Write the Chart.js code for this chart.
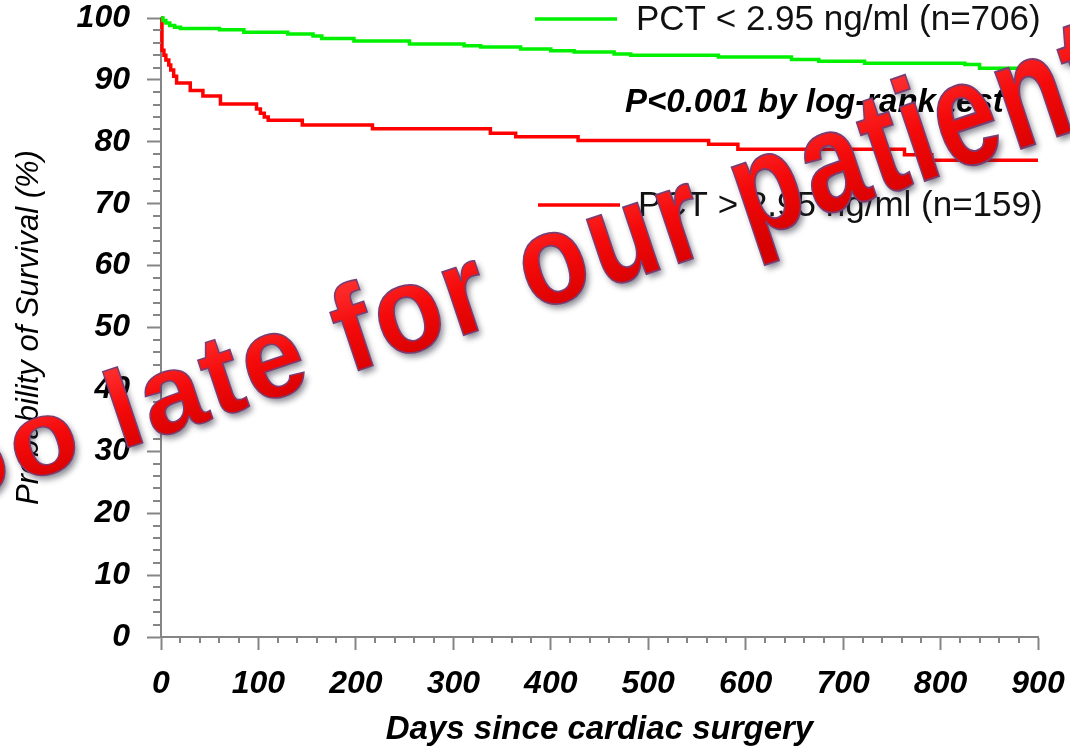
<!DOCTYPE html>
<html>
<head>
<meta charset="utf-8">
<script src="https://cdn.jsdelivr.net/npm/chart.js@4/dist/chart.umd.min.js"></script>
<style>
  html, body { margin: 0; padding: 0; background: #ffffff; }
  #c { display: block; }
</style>
</head>
<body>
<canvas id="c" width="1070" height="750"></canvas>
<script>
// ---- Data ----
const lowDays  = [0, 2, 5, 9, 14, 20, 60, 85, 130, 156, 165, 198, 255, 311, 328, 369, 400, 424, 465, 482, 572, 647, 675, 722, 825, 840, 900];
const lowSurv  = [100, 99.6, 99.2, 98.8, 98.5, 98.3, 98.1, 97.7, 97.4, 97.1, 96.7, 96.3, 95.8, 95.5, 95.3, 95.0, 94.7, 94.5, 94.2, 94.0, 93.7, 93.3, 93.0, 92.7, 92.5, 91.9, 91.9];

const highDays = [0, 1, 3, 5, 8, 10, 13, 16, 30, 43, 61, 98, 102, 106, 110, 145, 217, 338, 364, 428, 562, 592, 763, 791, 900];
const highSurv = [100, 94.8, 94.0, 93.2, 92.4, 91.6, 90.6, 89.5, 88.3, 87.4, 86.1, 85.3, 84.6, 84.0, 83.5, 82.7, 82.1, 81.4, 80.8, 80.2, 79.6, 78.8, 77.9, 77.0, 77.0];

const seriesLabels = ['PCT < 2.95 ng/ml (n=706)', 'PCT > 2.95 ng/ml (n=159)'];
const seriesColors = ['#00f000', '#ff0000'];
const xTicks = [0, 100, 200, 300, 400, 500, 600, 700, 800, 900];
const yTicks = [0, 10, 20, 30, 40, 50, 60, 70, 80, 90, 100];
const xTitle = 'Days since cardiac surgery';
const yTitle = 'Probability of Survival (%)';
const pValueText = 'P<0.001 by log-rank test';
const watermarkText = 'Too late for our patients';

const toPts = (xs, ys) => xs.map((x, i) => ({ x: x, y: ys[i] }));

const FONT = '"Liberation Sans", Arial, Helvetica, sans-serif';
const AXIS_GRAY = '#858585';

const background = {
  id: 'background',
  beforeDraw(chart) {
    const ctx = chart.ctx;
    ctx.save();
    ctx.fillStyle = '#ffffff';
    ctx.fillRect(0, 0, chart.width, chart.height);
    ctx.restore();
  }
};

const minorTicks = {
  id: 'minorTicks',
  afterDraw(chart) {
    const ctx = chart.ctx;
    const xs = chart.scales.x, ys = chart.scales.y;
    const area = chart.chartArea;
    ctx.save();
    ctx.strokeStyle = AXIS_GRAY;
    ctx.lineWidth = 2;
    ctx.beginPath();
    for (let v = 0; v <= 900; v += 20) {
      if (v % 100 === 0) continue;
      const px = Math.round(xs.getPixelForValue(v));
      ctx.moveTo(px, area.bottom);
      ctx.lineTo(px, area.bottom + 6);
    }
    for (let v = 0; v <= 100; v += 2) {
      if (v % 10 === 0) continue;
      const py = Math.round(ys.getPixelForValue(v));
      ctx.moveTo(area.left - 8, py);
      ctx.lineTo(area.left, py);
    }
    ctx.stroke();
    ctx.restore();
  }
};

const annotations = {
  id: 'annotations',
  afterDraw(chart) {
    const ctx = chart.ctx;
    ctx.save();
    // legend entries
    const legendPos = [{ x1: 535, x2: 617, y: 19, tx: 636 }, { x1: 538, x2: 620, y: 205, tx: 638 }];
    ctx.lineWidth = 3.5;
    ctx.textBaseline = 'middle';
    ctx.textAlign = 'left';
    ctx.font = '35px ' + FONT;
    ctx.fillStyle = '#111111';
    legendPos.forEach((p, i) => {
      ctx.strokeStyle = seriesColors[i];
      ctx.beginPath();
      ctx.moveTo(p.x1, p.y);
      ctx.lineTo(p.x2, p.y);
      ctx.stroke();
      ctx.fillText(seriesLabels[i], p.tx, p.y + 1);
    });
    // p-value text
    ctx.font = 'italic bold 33px ' + FONT;
    ctx.fillStyle = '#000000';
    ctx.fillText(pValueText, 625, 103);

    // watermark: rotated WordArt-like text, letters growing taller to the right
    ctx.translate(10, 487);
    ctx.rotate(-18.5 * Math.PI / 180);
    ctx.font = 'bold 120px ' + FONT;
    ctx.textBaseline = 'alphabetic';
    ctx.textAlign = 'left';
    let pos = -ctx.measureText('To').width;
    const chars = Array.from(watermarkText);
    const glyphs = chars.map(ch => {
      const w = ctx.measureText(ch).width;
      const g = { ch: ch, w: w, x: pos };
      pos += w;
      return g;
    });
    const drawGlyphs = (mode) => {
      glyphs.forEach(g => {
        if (g.ch === ' ') return;
        const t = g.x + g.w / 2;
        const sy = 0.87 + 0.00037 * t;
        const sx = 0.93;
        ctx.save();
        ctx.translate(t, 0);
        ctx.scale(sx, sy);
        if (mode === 'fill') {
          const grad = ctx.createLinearGradient(0, -95, 0, 10);
          grad.addColorStop(0, '#ff3535');
          grad.addColorStop(0.5, '#f50a0a');
          grad.addColorStop(1, '#d60000');
          ctx.fillStyle = grad;
          ctx.shadowColor = 'rgba(40,40,60,0.55)';
          ctx.shadowBlur = 6;
          ctx.shadowOffsetX = 3;
          ctx.shadowOffsetY = 4;
          ctx.fillText(g.ch, -g.w / 2, 0);
        } else {
          ctx.strokeStyle = '#7a3d72';
          ctx.lineWidth = 1.6;
          ctx.strokeText(g.ch, -g.w / 2, 0);
        }
        ctx.restore();
      });
    };
    drawGlyphs('fill');
    drawGlyphs('stroke');
    ctx.restore();
  }
};

new Chart(document.getElementById('c'), {
  type: 'line',
  data: {
    datasets: [
      {
        label: seriesLabels[0],
        data: toPts(lowDays, lowSurv),
        borderColor: seriesColors[0],
        borderWidth: 3.5,
        stepped: 'before',
        pointRadius: 0,
        fill: false,
        clip: false
      },
      {
        label: seriesLabels[1],
        data: toPts(highDays, highSurv),
        borderColor: seriesColors[1],
        borderWidth: 3.5,
        stepped: 'before',
        pointRadius: 0,
        fill: false,
        clip: false
      }
    ]
  },
  options: {
    responsive: false,
    animation: false,
    devicePixelRatio: 1,
    layout: { padding: 0 },
    plugins: { legend: { display: false }, tooltip: { enabled: false } },
    scales: {
      x: {
        type: 'linear',
        min: 0,
        max: 900,
        afterBuildTicks(scale) { scale.ticks = xTicks.map(v => ({ value: v })); },
        afterFit(scale) { scale.height = 113; scale.paddingRight = 32; scale.paddingLeft = 0; },
        ticks: {
          color: '#000000',
          font: { family: FONT, size: 32, style: 'italic', weight: 'bold' },
          padding: 15,
          maxRotation: 0,
          autoSkip: false
        },
        grid: { display: true, drawOnChartArea: false, drawTicks: true, tickLength: 13, tickColor: AXIS_GRAY, tickWidth: 2 },
        border: { display: true, color: AXIS_GRAY, width: 2 },
        title: {
          display: true,
          text: xTitle,
          color: '#000000',
          font: { family: FONT, size: 33, style: 'italic', weight: 'bold' },
          padding: { top: 0, bottom: 0 }
        }
      },
      y: {
        type: 'linear',
        min: 0,
        max: 100,
        afterBuildTicks(scale) { scale.ticks = yTicks.map(v => ({ value: v })); },
        afterFit(scale) { scale.width = 161; scale.paddingTop = 18; scale.paddingBottom = 0; },
        ticks: {
          color: '#000000',
          font: { family: FONT, size: 32, style: 'italic', weight: 'bold' },
          padding: 17,
          autoSkip: false
        },
        grid: { display: true, drawOnChartArea: false, drawTicks: true, tickLength: 14, tickColor: AXIS_GRAY, tickWidth: 2 },
        border: { display: true, color: AXIS_GRAY, width: 2 },
        title: {
          display: true,
          text: yTitle,
          color: '#000000',
          font: { family: FONT, size: 31, style: 'italic', weight: 'normal' },
          padding: { top: 11, bottom: 0 }
        }
      }
    }
  },
  plugins: [background, minorTicks, annotations]
});
</script>
</body>
</html>
